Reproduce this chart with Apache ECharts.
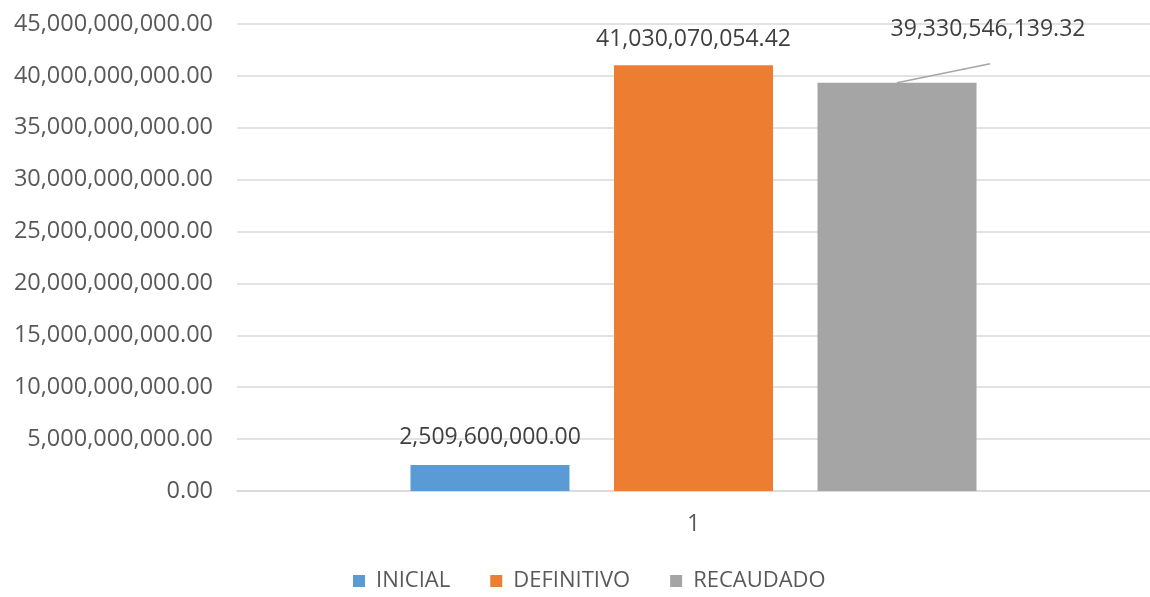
<!DOCTYPE html>
<html>
<head>
<meta charset="utf-8">
<script src="https://cdn.jsdelivr.net/npm/echarts@6/dist/echarts.min.js"></script>
<style>html,body{margin:0;padding:0;background:#fff;overflow:hidden}#c{width:1150px;height:597px}</style>
</head>
<body>
<div id="c"></div>
<script>
const categories = ['1'];
const seriesNames = ['INICIAL', 'DEFINITIVO', 'RECAUDADO'];
const inicial = [2509600000.00];
const definitivo = [41030070054.42];
const recaudado = [39330546139.32];
const colors = ['#5b9bd5', '#ed7d31', '#a5a5a5'];

function fmt(v) {
  return Number(v).toLocaleString('en-US', {minimumFractionDigits: 2, maximumFractionDigits: 2});
}
(function () {
  const font = '"Open Sans", sans-serif';
  const chart = echarts.init(document.getElementById('c'));
  const values = [inicial, definitivo, recaudado];
  const leadDx = 91, leadDy = -28;
  chart.setOption({
    animation: false,
    textStyle: {fontFamily: font},
    grid: {left: 237, width: 921, top: 24, bottom: 106, containLabel: false},
    legend: {
      bottom: 0, left: 348, icon: 'rect', itemWidth: 12, itemHeight: 12, itemGap: 40,
      textStyle: {color: '#595959', fontSize: 22, fontFamily: font, padding: [0, 0, 0, 6]},
      data: seriesNames
    },
    xAxis: {
      type: 'category', data: categories,
      axisLine: {lineStyle: {color: '#d9d9d9', width: 1.5}}, axisTick: {show: false},
      axisLabel: {color: '#595959', fontSize: 23, margin: 22, fontFamily: font}
    },
    yAxis: {
      type: 'value', min: 0, max: 45000000000, interval: 5000000000,
      axisLine: {show: false}, axisTick: {show: false},
      splitLine: {lineStyle: {color: '#d9d9d9', width: 1.5}},
      axisLabel: {color: '#595959', fontSize: 23.5, margin: 24, fontFamily: font, formatter: fmt}
    },
    series: seriesNames.map((n, i) => ({
      name: n, type: 'bar', data: values[i], barWidth: 159, barGap: '28%',
      itemStyle: {color: colors[i]},
      label: {show: true, position: 'top', distance: i === 0 ? 16 : 14, color: '#404040', fontSize: 23,
        fontFamily: font, formatter: p => fmt(p.value)},
      labelLayout: i === 2 ? {dx: leadDx, dy: leadDy} : undefined
    }))
  });
  // leader line for RECAUDADO label, from the bar's top centre (library layout)
  try {
    const lay = chart.getModel().getSeriesByIndex(2).getData().getItemLayout(0);
    const cx = lay.x + lay.width / 2;
    const barTop = Math.min(lay.y, lay.y + lay.height);
    chart.setOption({
      graphic: [{
        type: 'line', silent: true,
        shape: {x1: cx, y1: barTop, x2: cx + leadDx + 2, y2: barTop - 19},
        style: {stroke: '#a6a6a6', lineWidth: 1.5}
      }]
    });
  } catch (e) { console.error(e); }
})();
</script>
</body>
</html>
